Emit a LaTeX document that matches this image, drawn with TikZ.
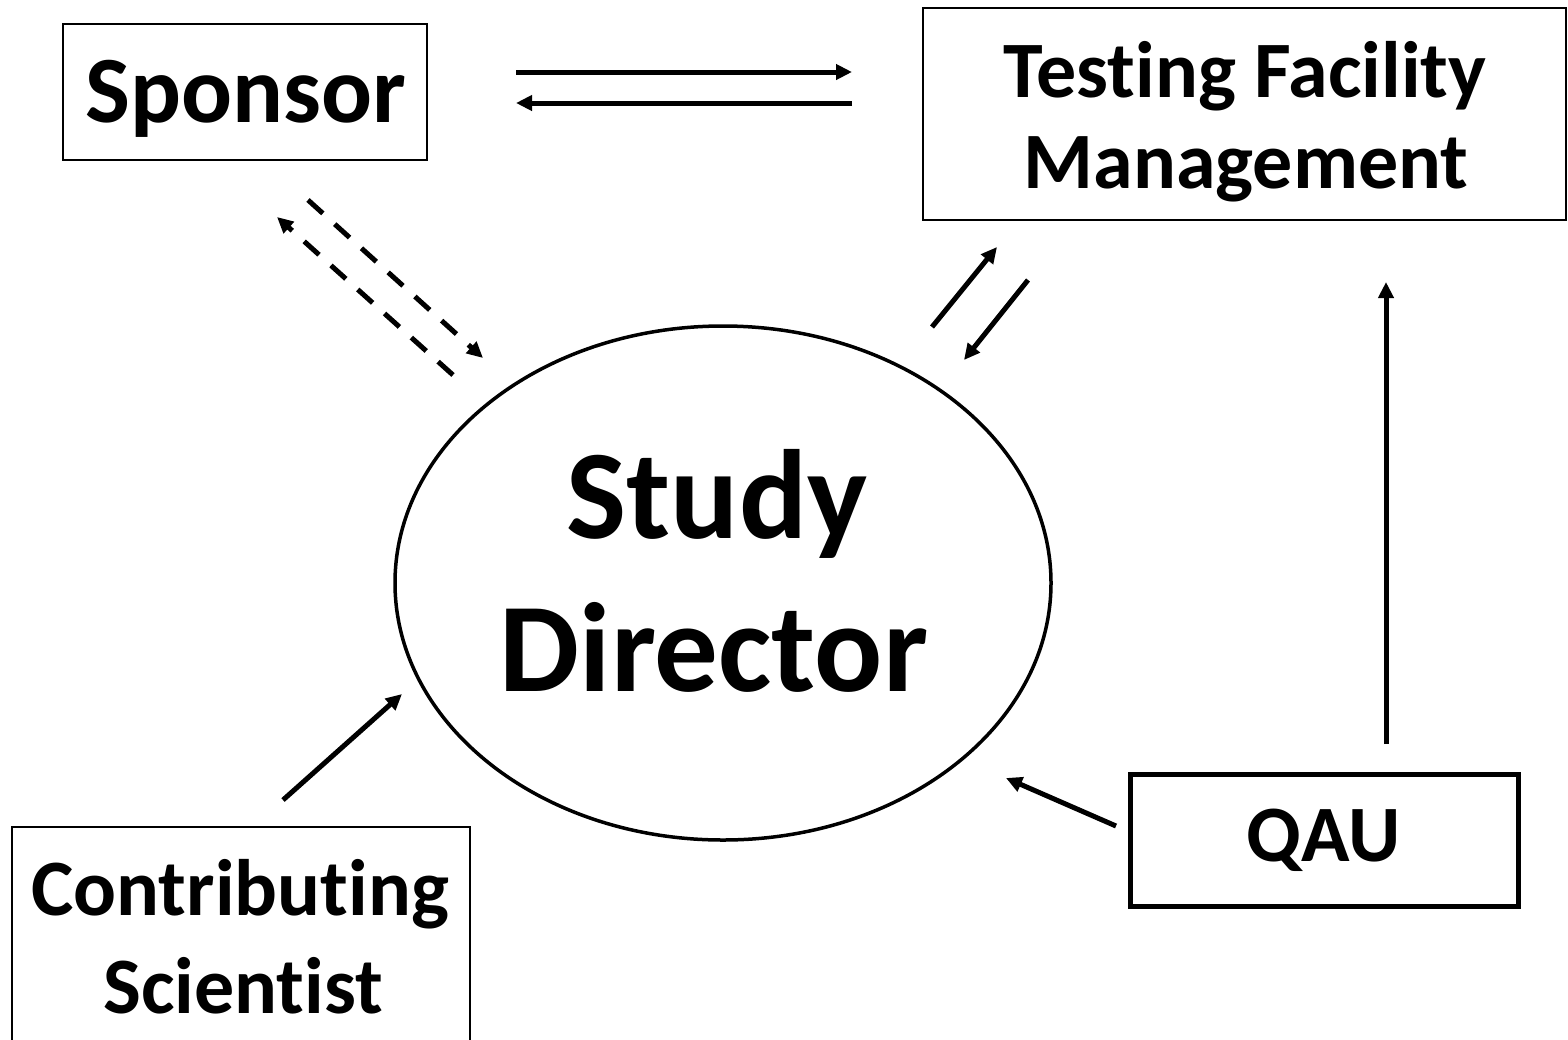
\documentclass[tikz,border=0pt]{standalone}
\usepackage{fontspec}
\setmainfont{Carlito}[Ligatures={NoCommon,NoDiscretionary,NoContextual}]
\usetikzlibrary{shapes.geometric,arrows.meta}
\begin{document}
\begin{tikzpicture}[x=1pt,y=-1pt,
  frame/.style={draw,rectangle,inner sep=0pt,line width=2.2pt},
  label/.style={anchor=base,inner sep=0pt,font=\bfseries\fontsize{80}{96}\selectfont},
  link/.style={line width=5pt,-{Triangle[length=16pt,width=15pt]}},
  dlink/.style={link,dash pattern=on 20pt off 16pt},
]
\useasboundingbox (0,0) rectangle (1568,1039);

% boxes
\node[frame,line width=1.8pt,minimum width=364pt,minimum height=136pt] (sponsor) at (245,92) {};
\node[frame,minimum width=643pt,minimum height=212pt] (tfm) at (1244.5,114) {};
\node[frame,minimum width=458pt,minimum height=230pt] (cs) at (241,942) {};
\node[frame,line width=5pt,minimum width=388pt,minimum height=132pt] (qau) at (1324,840) {};
\node[draw,ellipse,line width=3.5pt,inner sep=0pt,minimum width=656pt,minimum height=514pt] (sd) at (723,583) {};

% texts
\node[label,font=\bfseries\fontsize{95}{114}\selectfont] (sponsor-t) at (246,122) {Sponsor};
\node[label] (tfm-t1) at (1245,97) {Testing Facility};
\node[label] (tfm-t2) at (1246,188) {Management};
\node[label] (cs-t1) at (240,915) {Contributing};
\node[label] (cs-t2) at (243,1013) {Scientist};
\node[label] (qau-t) at (1324,861) {QAU};
\node[label,font=\bfseries\fontsize{127}{152}\selectfont] (sd-t1) at (717,538) {Study};
\node[label,font=\bfseries\fontsize{127}{152}\selectfont] (sd-t2) at (714,691) {Director};

% arrow ends
\coordinate (a1s) at (516,72);   \coordinate (a1e) at (852,72);
\coordinate (a2s) at (852,103);  \coordinate (a2e) at (516,103);
\coordinate (d1s) at (308,200);  \coordinate (d1e) at (483,358);
\coordinate (d2s) at (453,375);  \coordinate (d2e) at (277,217);
\coordinate (u1s) at (932,327);  \coordinate (u1e) at (997,247);
\coordinate (u2s) at (1028,280); \coordinate (u2e) at (964,360);
\coordinate (c1s) at (283,800);  \coordinate (c1e) at (402,694);
\coordinate (q1s) at (1116,826); \coordinate (q1e) at (1006,778);
\coordinate (q2s) at (1386,744); \coordinate (q2e) at (1386,282);

% connectors
\draw[link] (a1s) -- (a1e);
\draw[link] (a2s) -- (a2e);
\draw[dlink] (d1s) -- (d1e);
\draw[dlink] (d2s) -- (d2e);
\draw[link] (u1s) -- (u1e);
\draw[link] (u2s) -- (u2e);
\draw[link] (c1s) -- (c1e);
\draw[link] (q1s) -- (q1e);
\draw[link] (q2s) -- (q2e);
\end{tikzpicture}
\end{document}
